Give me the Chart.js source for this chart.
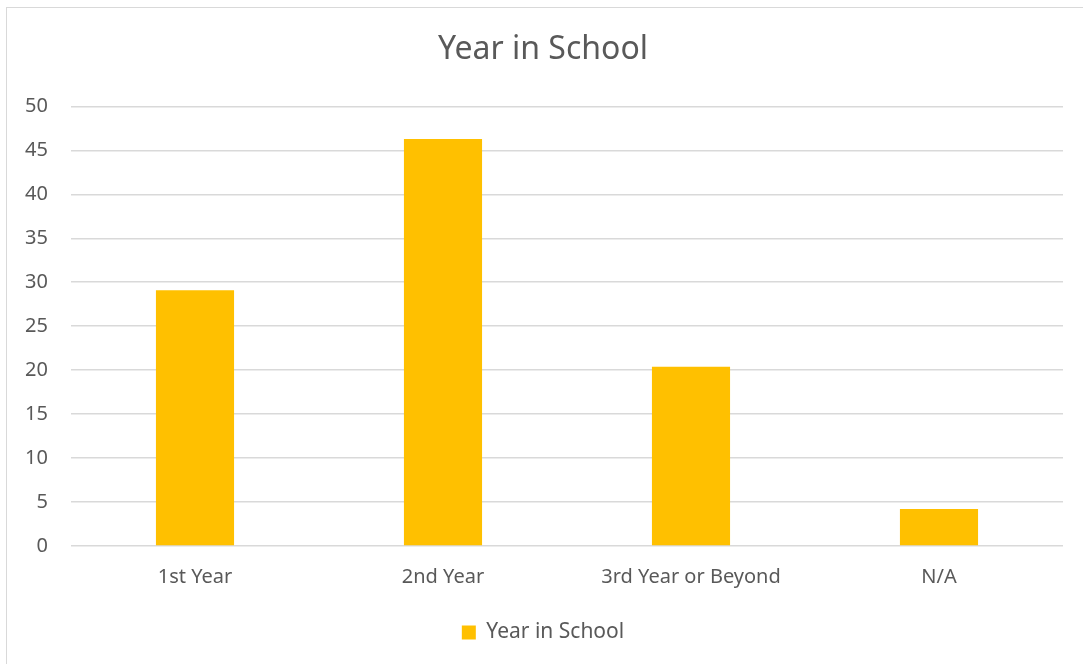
<!DOCTYPE html>
<html>
<head>
<meta charset="utf-8">
<script src="https://cdn.jsdelivr.net/npm/chart.js@4"></script>
<style>
  html, body { margin: 0; padding: 0; background: #fff; overflow: hidden; }
  #wrap { position: relative; width: 1083px; height: 664px; }
  #frame {
    position: absolute; left: 6px; top: 7px; width: 1100px; height: 700px;
    border: 1.5px solid #d9d9d9; box-sizing: border-box; pointer-events: none;
  }
  canvas { position: absolute; left: 0; top: 0; }
</style>
</head>
<body>
<div id="wrap">
  <canvas id="chart" width="1083" height="664"></canvas>
  <div id="frame"></div>
</div>
<script>
// Chart data
const categories = ["1st Year", "2nd Year", "3rd Year or Beyond", "N/A"];
const seriesName = "Year in School";
const seriesValues = [29.1, 46.3, 20.4, 4.2];
const yTicks = [0, 5, 10, 15, 20, 25, 30, 35, 40, 45, 50];

const textColor = "#595959";
const gridColor = "#d9d9d9";
const barColor = "#FFC000";
const fontFamily = "'Noto Sans', 'Open Sans', sans-serif";

const ctx = document.getElementById("chart");

new Chart(ctx, {
  type: "bar",
  data: {
    labels: categories,
    datasets: [{
      label: seriesName,
      data: seriesValues,
      backgroundColor: barColor,
      borderWidth: 0,
      categoryPercentage: 1.0,
      barPercentage: 0.315
    }]
  },
  options: {
    responsive: false,
    animation: false,
    devicePixelRatio: 1,
    // y labels are clipped to the axis box, so keep the left padding small
    layout: { padding: { left: 23, right: 20, top: 0, bottom: 11 } },
    plugins: {
      title: {
        display: true,
        text: seriesName,
        color: textColor,
        font: { family: fontFamily, size: 32, weight: "normal" },
        padding: { top: 31, bottom: 37 }
      },
      legend: {
        display: true,
        position: "bottom",
        labels: {
          color: textColor,
          font: { family: fontFamily, size: 21 },
          boxWidth: 14,
          boxHeight: 14,
          padding: 10
        }
      },
      tooltip: { enabled: false }
    },
    scales: {
      x: {
        grid: { display: false, drawTicks: false },
        border: { display: false },
        ticks: {
          color: textColor,
          font: { family: fontFamily, size: 20 },
          padding: 19
        },
        afterFit: axis => { axis.height = 66; }
      },
      y: {
        min: 0,
        max: 50,
        afterBuildTicks: axis => { axis.ticks = yTicks.map(v => ({ value: v })); },
        grid: { color: gridColor, lineWidth: 1.5, drawTicks: false },
        border: { display: false },
        ticks: {
          color: textColor,
          font: { family: fontFamily, size: 20 },
          padding: 23
        },
        afterFit: axis => { axis.width = 48; }
      }
    }
  }
});
</script>
</body>
</html>
